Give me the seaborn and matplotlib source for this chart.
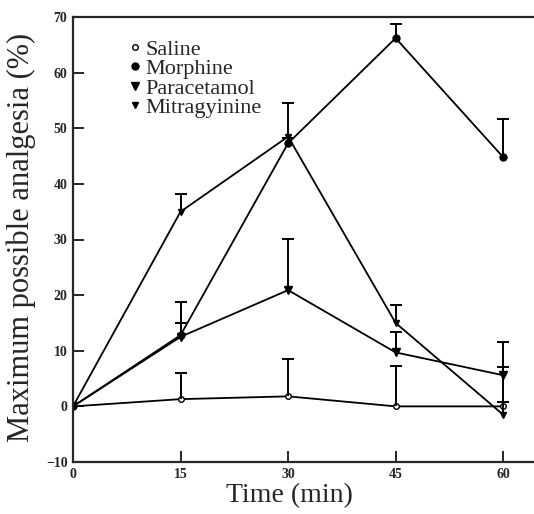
import numpy as np
import pandas as pd
import matplotlib
matplotlib.use('Agg')
import matplotlib.pyplot as plt
import seaborn as sns

## data
time = [0, 15, 30, 45, 60]
drugs = ['Saline', 'Morphine', 'Paracetamol', 'Mitragyinine']
saline = [0, 1.3, 1.8, 0.0, 0.0]
saline_err = [0, 4.7, 6.8, 7.2, 7.0]
morphine = [0, 12.8, 47.3, 66.2, 44.8]
morphine_err = [0, 5.9, 1.0, 2.5, 6.8]
paracetamol = [0, 12.5, 20.9, 9.7, 5.6]
paracetamol_err = [0, 2.5, 9.2, 3.6, 5.9]
mitragynine = [0, 35.0, 48.5, 15.0, -1.5]
mitragynine_err = [0, 3.2, 6.0, 3.3, 2.3]

means = [saline, morphine, paracetamol, mitragynine]
errs = [saline_err, morphine_err, paracetamol_err, mitragynine_err]
df = pd.DataFrame({
    'time': time * 4,
    'drug': np.repeat(drugs, len(time)),
    'mpa': np.concatenate(means),
    'err': np.concatenate(errs),
})

sns.set_style('ticks')
plt.rcParams['font.family'] = ['Liberation Serif', 'DejaVu Serif']

fig = plt.figure(figsize=(5.34, 5.14), dpi=100)
ax = fig.add_axes([73/534, 52/514, 1 - 73/534, 445/514])

# marker styles per series
styles = {
    'Saline': dict(marker='o', markersize=4, markerfacecolor='white'),
    'Morphine': dict(marker='o', markersize=5, markerfacecolor='black'),
    'Paracetamol': dict(marker='v', markersize=6, markerfacecolor='black'),
    'Mitragyinine': dict(marker='v', markersize=5, markerfacecolor='black'),
}

for d in drugs:
    sub = df[df['drug'] == d]
    sns.lineplot(data=sub, x='time', y='mpa', ax=ax, color='black', lw=1.3,
                 markeredgecolor='black', markeredgewidth=1, label=d,
                 **styles[d])
    # only the upper half of the error bar is drawn, cap on top only
    eb = ax.errorbar(sub['time'], sub['mpa'], yerr=[np.zeros(len(sub)), sub['err']],
                     fmt='none', ecolor='black', elinewidth=1.4, capsize=4, capthick=1.4)
    eb[1][0].set_visible(False)

ax.set_xlim(0, 64.3)
ax.set_ylim(-10, 70)
ax.set_xticks(time)
ax.set_yticks(range(-10, 71, 10))
ax.tick_params(direction='in', length=8, width=1.4, labelsize=10, pad=4)
for lab in ax.get_xticklabels() + ax.get_yticklabels():
    lab.set_fontweight('bold')

for s in ['left', 'bottom', 'top']:
    ax.spines[s].set_linewidth(1.6)
ax.spines['right'].set_visible(False)

ax.set_xlabel('Time (min)', fontsize=20)
ax.set_ylabel('Maximum possible analgesia (%)', fontsize=22)
ax.xaxis.set_label_coords(0.47, -0.048)
ax.yaxis.set_label_coords(-0.08, 0.505)

leg = ax.legend(loc='upper left', bbox_to_anchor=(0.1, 0.97), frameon=False,
                fontsize=16, handlelength=0.6, handletextpad=0.2,
                labelspacing=-0.05, borderaxespad=0)
for h in leg.get_lines():
    h.set_linestyle('none')

fig.savefig('out.png', dpi=100)
